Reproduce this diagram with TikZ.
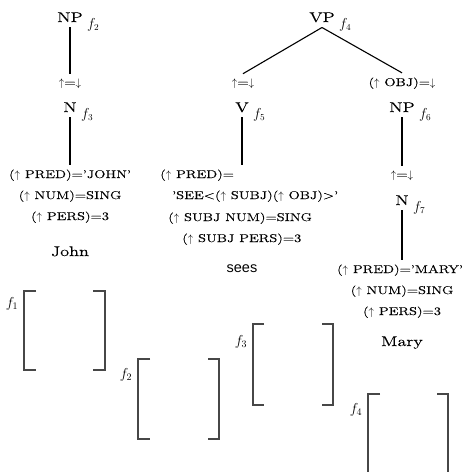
\documentclass[tikz,border=0pt]{standalone}
\usepackage{fontspec}
\setmainfont{Latin Modern Roman}[FakeStretch=1.3,FakeBold=0.3]
\newfontfamily\sansf{Liberation Sans}
\tikzset{
  big/.style={font=\fontsize{14}{16}\selectfont, inner sep=5pt},
  sm/.style={font=\fontsize{11.3}{13}\selectfont, inner sep=4.5pt},
  flab/.style={font=\fontsize{13.5}{15}\selectfont, inner sep=0pt, anchor=base west},
  blab/.style={font=\fontsize{14}{16}\selectfont, inner sep=0pt},
  edge/.style={line width=1.1pt, black},
  brk/.style={line width=1.5pt, black!72},
}
\begin{document}
\begin{tikzpicture}[x=1pt,y=-1pt]
\useasboundingbox (0,0) rectangle (463,472);
\clip (0,0) rectangle (463,472);
% left NP
\node[big, anchor=base] (np2) at (70,22) {NP};
\node[flab] (lf2) at ([xshift=-1pt,yshift=-6pt]np2.base east) {$f_2$};
\node[sm, anchor=base] (eq1) at (70,86) {$\uparrow$=$\downarrow$};
\node[big, anchor=base] (n3) at (70,112) {N};
\node[flab] (lf3) at ([xshift=-1pt,yshift=-6pt]n3.base east) {$f_3$};
\node[sm, anchor=base] (j1) at (70,178) {($\uparrow$ PRED)='JOHN'};
\node[sm, anchor=base] (j2) at (70,199) {($\uparrow$ NUM)=SING};
\node[sm, anchor=base] (j3) at (70,220) {($\uparrow$ PERS)=3};
\node[big, anchor=base] (john) at (70,256) {John};
\draw[edge] (np2.south) -- (eq1.north);
\draw[edge] (n3.south) -- (j1.north);
% VP
\node[big, anchor=base] (vp) at (322,22) {VP};
\node[flab] (lf4) at ([xshift=-1pt,yshift=-6pt]vp.base east) {$f_4$};
\node[sm, anchor=base] (eq2) at (243,86) {$\uparrow$=$\downarrow$};
\node[sm, anchor=base] (obj) at (402,86) {($\uparrow$ OBJ)=$\downarrow$};
\draw[edge] (vp.south) -- (eq2.north);
\draw[edge] (vp.south) -- (obj.north);
% V
\node[big, anchor=base] (v5) at (242,112) {V};
\node[flab] (lf5) at ([xshift=-1pt,yshift=-6pt]v5.base east) {$f_5$};
\node[sm, anchor=base west] (v1) at (155.5,178) {($\uparrow$ PRED)=};
\node[sm, anchor=base west] (v2) at (167.5,199) {'SEE<($\uparrow$ SUBJ)($\uparrow$ OBJ)>'};
\node[sm, anchor=base west] (v3) at (163.5,221) {($\uparrow$ SUBJ NUM)=SING};
\node[sm, anchor=base west] (v4) at (177.5,242) {($\uparrow$ SUBJ PERS)=3};
\node[anchor=base, inner sep=2pt, font=\sansf\fontsize{14.5}{16}\selectfont] (sees) at (242,272) {sees};
\draw[edge] (v5.south) -- (v5.south |- v1.north);
% right NP
\node[big, anchor=base] (np6) at (402,112) {NP};
\node[flab] (lf6) at ([xshift=-1pt,yshift=-6pt]np6.base east) {$f_6$};
\node[sm, anchor=base] (eq3) at (402,178) {$\uparrow$=$\downarrow$};
\node[big, anchor=base] (n7) at (402,205) {N};
\node[flab] (lf7) at ([xshift=-1pt,yshift=-6pt]n7.base east) {$f_7$};
\node[sm, anchor=base] (m1) at (400,273) {($\uparrow$ PRED)='MARY'};
\node[sm, anchor=base] (m2) at (402,294) {($\uparrow$ NUM)=SING};
\node[sm, anchor=base] (m3) at (402,315) {($\uparrow$ PERS)=3};
\node[big, anchor=base] (mary) at (402,346) {Mary};
\draw[edge] (np6.south) -- (eq3.north);
\draw[edge] (n7.south) -- (n7.south |- m1.north);
% f-structure brackets
\draw[brk] (36,291) -- (24,291) -- (24,370) -- (36,370);
\draw[brk] (93,291) -- (105,291) -- (105,370) -- (93,370);
\node[blab] (b1) at (12,304) {$f_1$};
\draw[brk] (150,359) -- (138,359) -- (138,439) -- (150,439);
\draw[brk] (208,359) -- (219,359) -- (219,439) -- (208,439);
\node[blab] (b2) at (126,375) {$f_2$};
\draw[brk] (264,324) -- (253,324) -- (253,405) -- (264,405);
\draw[brk] (322,324) -- (333,324) -- (333,405) -- (322,405);
\node[blab] (b3) at (241,342) {$f_3$};
\draw[brk] (380,394) -- (368,394) -- (368,480);
\draw[brk] (437,394) -- (448,394) -- (448,480);
\node[blab] (b4) at (356,410) {$f_4$};
\end{tikzpicture}
\end{document}
